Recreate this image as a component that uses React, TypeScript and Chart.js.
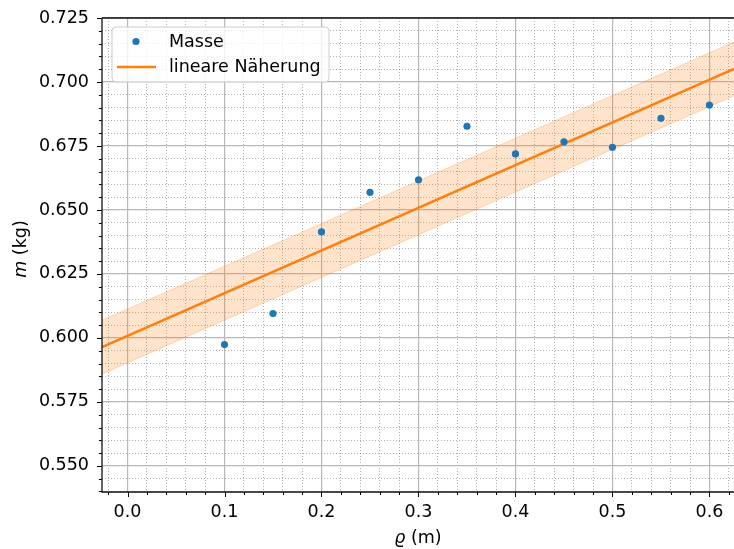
import React, { useEffect, useRef } from "react";
import { Chart, registerables } from "chart.js";

Chart.register(...registerables);

// ---- data ----
const rhoValues = [0.1, 0.15, 0.2, 0.25, 0.3, 0.35, 0.4, 0.45, 0.5, 0.55, 0.6];
const massValues = [0.5974, 0.6095, 0.6414, 0.6569, 0.6618, 0.6827, 0.6719, 0.6766, 0.6745, 0.6858, 0.691];
const fitX = [-0.0263, 0.6253];
const fitY = [0.5964, 0.7051];
const bandUpper = [0.6069, 0.7156];
const bandLower = [0.5859, 0.6946];

const xMajorTicks = [0.0, 0.1, 0.2, 0.3, 0.4, 0.5, 0.6];
const yMajorTicks = [0.55, 0.575, 0.6, 0.625, 0.65, 0.675, 0.7, 0.725];
const xMinorStep = 0.02;
const yMinorStep = 0.005;

const X_MIN = -0.0263;
const X_MAX = 0.6253;
const Y_MIN = 0.5398;
const Y_MAX = 0.725;

const BLUE = "#1f77b4";
const ORANGE = "#ff7f0e";
const FONT = "'DejaVu Sans', sans-serif";
const FS = 17.5;

function buildTicks(min: number, max: number, step: number) {
  const out: number[] = [];
  const start = Math.ceil(min / step - 1e-9);
  const end = Math.floor(max / step + 1e-9);
  for (let i = start; i <= end; i++) out.push(+(i * step).toFixed(6));
  return out;
}
const isMajor = (v: number, majors: number[]) => majors.some((m) => Math.abs(m - v) < 1e-7);

const zeroPad = (s: any) => {
  s.paddingLeft = 0;
  s.paddingRight = 0;
  s.paddingTop = 0;
  s.paddingBottom = 0;
};

const decorPlugin = {
  id: "decor",
  afterDraw(chart: any) {
    const { ctx, chartArea: a, scales } = chart;
    const xs = scales.x;
    const ys = scales.y;
    ctx.save();
    // tick marks
    ctx.strokeStyle = "#000";
    ctx.lineWidth = 1;
    for (const t of xs.ticks) {
      const px = Math.round(xs.getPixelForValue(t.value)) + 0.5;
      const len = isMajor(t.value, xMajorTicks) ? 5 : 3;
      ctx.beginPath();
      ctx.moveTo(px, a.bottom);
      ctx.lineTo(px, a.bottom + len);
      ctx.stroke();
    }
    for (const t of ys.ticks) {
      const py = Math.round(ys.getPixelForValue(t.value)) + 0.5;
      const len = isMajor(t.value, yMajorTicks) ? 5 : 3;
      ctx.beginPath();
      ctx.moveTo(a.left, py);
      ctx.lineTo(a.left - len, py);
      ctx.stroke();
    }
    // spines
    ctx.lineWidth = 1.3;
    ctx.strokeStyle = "#111";
    ctx.beginPath();
    ctx.moveTo(a.left, a.top);
    ctx.lineTo(a.right + 2, a.top);
    ctx.moveTo(a.left, a.top);
    ctx.lineTo(a.left, a.bottom);
    ctx.lineTo(a.right + 2, a.bottom);
    ctx.stroke();

    // legend
    const lx = 112, ly = 27, lw = 217, lh = 55, r = 4;
    ctx.beginPath();
    ctx.moveTo(lx + r, ly);
    ctx.lineTo(lx + lw - r, ly);
    ctx.quadraticCurveTo(lx + lw, ly, lx + lw, ly + r);
    ctx.lineTo(lx + lw, ly + lh - r);
    ctx.quadraticCurveTo(lx + lw, ly + lh, lx + lw - r, ly + lh);
    ctx.lineTo(lx + r, ly + lh);
    ctx.quadraticCurveTo(lx, ly + lh, lx, ly + lh - r);
    ctx.lineTo(lx, ly + r);
    ctx.quadraticCurveTo(lx, ly, lx + r, ly);
    ctx.closePath();
    ctx.fillStyle = "rgba(255,255,255,0.8)";
    ctx.fill();
    ctx.strokeStyle = "#cccccc";
    ctx.lineWidth = 1;
    ctx.stroke();

    const ds = chart.data.datasets;
    ctx.font = `${FS}px ${FONT}`;
    ctx.textBaseline = "middle";
    ctx.textAlign = "left";
    // entry 1: points
    ctx.beginPath();
    ctx.arc(136, 41.5, 3.6, 0, Math.PI * 2);
    ctx.fillStyle = BLUE;
    ctx.fill();
    ctx.fillStyle = "#000";
    ctx.fillText(ds[0].label, 169, 42);
    // entry 2: line
    ctx.strokeStyle = ORANGE;
    ctx.lineWidth = 2.4;
    ctx.beginPath();
    ctx.moveTo(117, 67);
    ctx.lineTo(156, 67);
    ctx.stroke();
    ctx.fillText(ds[1].label, 169, 67);

    // axis titles
    const italic = `italic ${FS}px ${FONT}`;
    const normal = `${FS}px ${FONT}`;
    ctx.textBaseline = "alphabetic";
    ctx.font = italic;
    const a1 = "\u03f1";
    const w1 = ctx.measureText(a1).width;
    ctx.font = normal;
    const b1 = " (m)";
    const w2 = ctx.measureText(b1).width;
    const cx = 418;
    let sx = cx - (w1 + w2) / 2;
    ctx.font = italic;
    ctx.fillText(a1, sx, 543);
    ctx.font = normal;
    ctx.fillText(b1, sx + w1, 543);
    ctx.save();
    ctx.translate(26, 249);
    ctx.rotate(-Math.PI / 2);
    ctx.font = italic;
    const a2 = "m";
    const w3 = ctx.measureText(a2).width;
    ctx.font = normal;
    const b2 = " (kg)";
    const w4 = ctx.measureText(b2).width;
    sx = -(w3 + w4) / 2;
    ctx.font = italic;
    ctx.fillText(a2, sx, 0);
    ctx.font = normal;
    ctx.fillText(b2, sx + w3, 0);
    ctx.restore();

    ctx.restore();
  },
};

export default function App() {
  const ref = useRef<HTMLCanvasElement | null>(null);
  useEffect(() => {
    if (!ref.current) return;
    const toPts = (xs: number[], ys: number[]) => xs.map((x, i) => ({ x, y: ys[i] }));
    const chart = new Chart(ref.current, {
      type: "scatter",
      data: {
        datasets: [
          {
            label: "Masse",
            data: toPts(rhoValues, massValues),
            backgroundColor: BLUE,
            borderColor: BLUE,
            pointRadius: 3.6,
            pointBorderWidth: 0,
            showLine: false,
            order: 0,
          },
          {
            label: "lineare Näherung",
            data: toPts(fitX, fitY),
            borderColor: ORANGE,
            borderWidth: 2.4,
            pointRadius: 0,
            showLine: true,
            order: 1,
          },
          {
            label: "upper",
            data: toPts(fitX, bandUpper),
            borderColor: "rgba(255,127,14,0.28)",
            backgroundColor: "rgba(255,127,14,0.22)",
            borderWidth: 1,
            pointRadius: 0,
            showLine: true,
            fill: "+1",
            order: 2,
          },
          {
            label: "lower",
            data: toPts(fitX, bandLower),
            borderColor: "rgba(255,127,14,0.28)",
            borderWidth: 1,
            pointRadius: 0,
            showLine: true,
            fill: false,
            order: 3,
          },
        ],
      },
      options: {
        animation: false,
        responsive: false,
        maintainAspectRatio: false,
        layout: { autoPadding: false, padding: { top: 18, right: 0, left: 0, bottom: 0 } },
        plugins: { legend: { display: false }, tooltip: { enabled: false } },
        scales: {
          x: {
            type: "linear",
            min: X_MIN,
            max: X_MAX,
            afterBuildTicks: (s: any) => {
              s.ticks = buildTicks(X_MIN, X_MAX, xMinorStep).map((v) => ({ value: v }));
            },
            afterFit: (s: any) => {
              s.height = 57;
              zeroPad(s);
            },
            ticks: {
              autoSkip: false,
              maxRotation: 0,
              minRotation: 0,
              padding: 10,
              color: "#000",
              font: { family: FONT, size: FS },
              callback: (v: any) => (isMajor(+v, xMajorTicks) ? (+v).toFixed(1) : ""),
            },
            grid: {
              drawTicks: false,
              color: (c: any) => (isMajor(c.tick?.value, xMajorTicks) ? "#b8b8b8" : "rgba(140,140,140,0.7)"),
              lineWidth: (c: any) => (isMajor(c.tick?.value, xMajorTicks) ? 1.2 : 1),
            },
            border: {
              display: false,
              dash: (c: any) => (isMajor(c.tick?.value, xMajorTicks) ? [] : [1, 2]),
            },
          },
          y: {
            type: "linear",
            min: Y_MIN,
            max: Y_MAX,
            afterBuildTicks: (s: any) => {
              s.ticks = buildTicks(Y_MIN, Y_MAX, yMinorStep).map((v) => ({ value: v }));
            },
            afterFit: (s: any) => {
              s.width = 102;
              zeroPad(s);
            },
            ticks: {
              autoSkip: false,
              padding: 13,
              color: "#000",
              font: { family: FONT, size: FS },
              callback: (v: any) => (isMajor(+v, yMajorTicks) ? (+v).toFixed(3) : ""),
            },
            grid: {
              drawTicks: false,
              color: (c: any) => (isMajor(c.tick?.value, yMajorTicks) ? "#b8b8b8" : "rgba(140,140,140,0.7)"),
              lineWidth: (c: any) => (isMajor(c.tick?.value, yMajorTicks) ? 1.2 : 1),
            },
            border: {
              display: false,
              dash: (c: any) => (isMajor(c.tick?.value, yMajorTicks) ? [] : [1, 2]),
            },
          },
        },
      },
      plugins: [decorPlugin],
    });
    return () => chart.destroy();
  }, []);
  return (
    <div style={{ position: "fixed", left: 0, top: 0, width: 734, height: 549, background: "#fff" }}>
      <canvas ref={ref} width={734} height={549} style={{ width: 734, height: 549 }} />
    </div>
  );
}
